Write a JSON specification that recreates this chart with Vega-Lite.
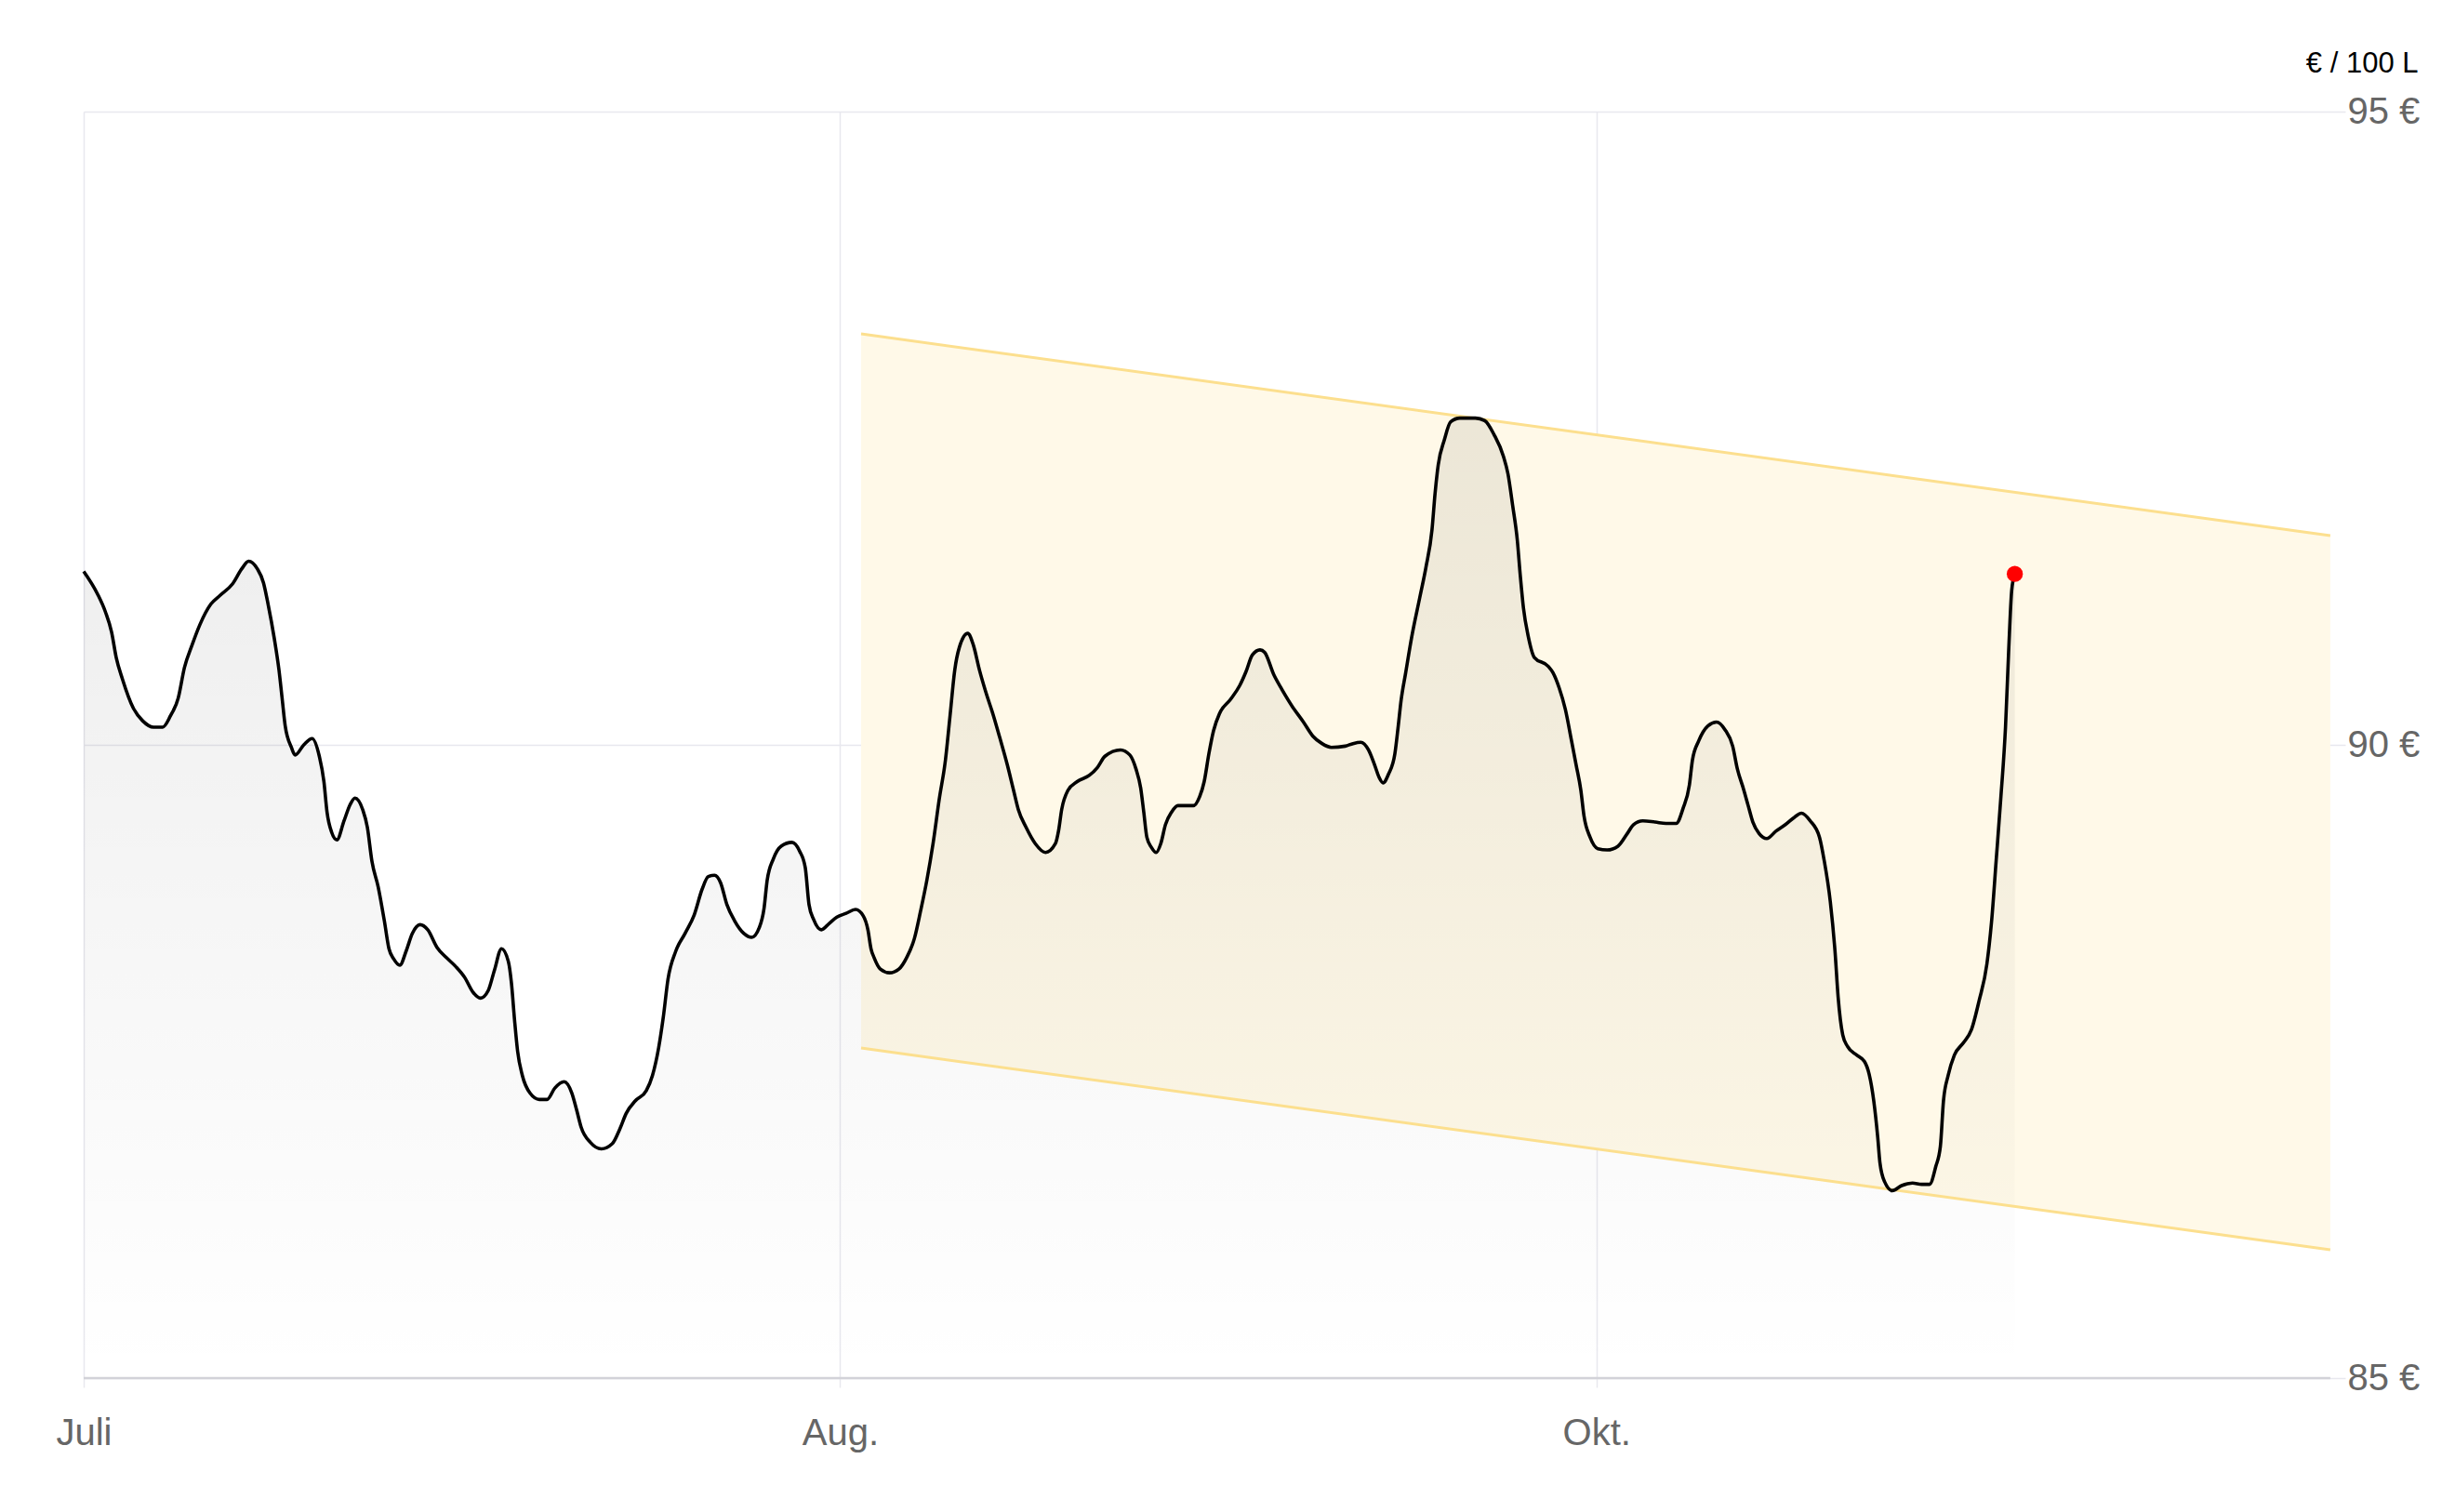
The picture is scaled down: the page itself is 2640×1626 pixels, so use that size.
{
  "$schema": "https://vega.github.io/schema/vega-lite/v6.json",
  "width": 2432,
  "height": 1362,
  "autosize": {"type": "none"},
  "padding": {"left": 90, "top": 120, "right": 118, "bottom": 144},
  "background": "#ffffff",
  "config": {
    "view": {"stroke": null},
    "font": "Liberation Sans"
  },
  "datasets": {
    "price": [
      {"t":0,"v":91.37},{"t":1.84,"v":91.19},{"t":2.87,"v":91.05},{"t":3.69,"v":90.89},{"t":4.3,"v":90.69},{"t":5.12,"v":90.52},{"t":6.56,"v":90.29},{"t":7.79,"v":90.19},{"t":9.22,"v":90.14},{"t":10.45,"v":90.14},{"t":11.48,"v":90.23},{"t":12.5,"v":90.37},{"t":13.32,"v":90.61},{"t":14.34,"v":90.79},{"t":15.37,"v":90.95},{"t":16.8,"v":91.11},{"t":18.03,"v":91.18},{"t":19.67,"v":91.27},{"t":20.9,"v":91.39},{"t":21.8,"v":91.45},{"t":22.95,"v":91.39},{"t":23.77,"v":91.28},{"t":24.38,"v":91.11},{"t":25.2,"v":90.84},{"t":25.82,"v":90.59},{"t":26.23,"v":90.37},{"t":26.64,"v":90.15},{"t":27.46,"v":89.98},{"t":27.95,"v":89.92},{"t":29.1,"v":90.0},{"t":30.2,"v":90.05},{"t":31.15,"v":89.91},{"t":31.76,"v":89.71},{"t":32.17,"v":89.47},{"t":32.78,"v":89.31},{"t":33.48,"v":89.25},{"t":34.42,"v":89.4},{"t":35.24,"v":89.53},{"t":35.86,"v":89.58},{"t":36.88,"v":89.49},{"t":37.5,"v":89.35},{"t":38.11,"v":89.08},{"t":38.93,"v":88.88},{"t":39.75,"v":88.61},{"t":40.36,"v":88.39},{"t":40.98,"v":88.31},{"t":41.8,"v":88.26},{"t":42.62,"v":88.37},{"t":43.44,"v":88.51},{"t":44.46,"v":88.58},{"t":45.49,"v":88.54},
      {"t":46.72,"v":88.4},{"t":47.95,"v":88.32},{"t":49.18,"v":88.25},{"t":50.41,"v":88.16},{"t":51.43,"v":88.05},{"t":52.46,"v":88.0},{"t":53.48,"v":88.06},{"t":54.3,"v":88.22},{"t":55.24,"v":88.39},{"t":56.14,"v":88.29},{"t":56.55,"v":88.12},{"t":56.96,"v":87.83},{"t":57.37,"v":87.58},{"t":57.99,"v":87.39},{"t":59.01,"v":87.25},{"t":60.24,"v":87.2},{"t":61.26,"v":87.2},{"t":62.29,"v":87.29},{"t":63.52,"v":87.34},{"t":64.54,"v":87.25},{"t":65.16,"v":87.12},{"t":65.77,"v":86.98},{"t":67.0,"v":86.86},{"t":68.44,"v":86.81},{"t":69.87,"v":86.85},{"t":70.9,"v":86.97},{"t":71.72,"v":87.09},{"t":72.94,"v":87.19},{"t":74.38,"v":87.27},{"t":75.2,"v":87.39},{"t":76.02,"v":87.61},{"t":76.63,"v":87.85},{"t":77.25,"v":88.15},{"t":78.27,"v":88.37},{"t":79.5,"v":88.51},{"t":80.73,"v":88.66},{"t":81.76,"v":88.86},{"t":82.58,"v":88.96},{"t":83.4,"v":88.97},{"t":84.21,"v":88.91},{"t":85.03,"v":88.74},{"t":86.06,"v":88.61},{"t":87.29,"v":88.51},{"t":88.31,"v":88.48},{"t":89.34,"v":88.56},{"t":89.95,"v":88.71},{"t":90.36,"v":88.93},{"t":91.18,"v":89.1},{"t":92.21,"v":89.2},{"t":93.64,"v":89.23},{"t":94.66,"v":89.16},{"t":95.4,"v":89.03},{"t":95.89,"v":88.74},{"t":96.51,"v":88.62},{"t":97.53,"v":88.54},{"t":98.56,"v":88.59},{"t":99.58,"v":88.64},{"t":100.81,"v":88.67},
      {"t":102.04,"v":88.7},{"t":103.06,"v":88.65},{"t":103.68,"v":88.54},{"t":104.09,"v":88.39},{"t":104.5,"v":88.32},{"t":105.32,"v":88.23},{"t":106.55,"v":88.2},{"t":107.78,"v":88.23},{"t":108.8,"v":88.32},{"t":109.82,"v":88.47},{"t":110.65,"v":88.69},{"t":111.47,"v":88.93},{"t":112.29,"v":89.22},{"t":113.11,"v":89.57},{"t":113.93,"v":89.88},{"t":114.54,"v":90.23},{"t":115.16,"v":90.59},{"t":115.77,"v":90.77},{"t":116.88,"v":90.88},{"t":117.61,"v":90.79},{"t":118.43,"v":90.59},{"t":119.25,"v":90.42},{"t":120.28,"v":90.23},{"t":121.1,"v":90.06},{"t":122.12,"v":89.84},{"t":122.94,"v":89.64},{"t":123.56,"v":89.49},{"t":124.58,"v":89.35},{"t":125.81,"v":89.22},{"t":127.16,"v":89.15},{"t":128.47,"v":89.22},{"t":128.88,"v":89.32},{"t":129.3,"v":89.49},{"t":130.12,"v":89.64},{"t":131.35,"v":89.71},{"t":132.97,"v":89.76},{"t":134.0,"v":89.82},{"t":135.02,"v":89.91},{"t":137.07,"v":89.96},{"t":138.31,"v":89.92},{"t":139.12,"v":89.81},{"t":139.74,"v":89.66},{"t":140.15,"v":89.47},{"t":140.56,"v":89.27},{"t":141.17,"v":89.19},{"t":141.79,"v":89.15},{"t":142.4,"v":89.22},{"t":143.02,"v":89.37},{"t":143.84,"v":89.47},{"t":144.66,"v":89.52},{"t":145.68,"v":89.52},{"t":146.7,"v":89.52},{"t":147.53,"v":89.59},{"t":148.14,"v":89.71},{"t":148.76,"v":89.93},{"t":149.37,"v":90.11},{"t":150.19,"v":90.25},{"t":151.63,"v":90.36},{"t":152.85,"v":90.47},{"t":153.68,"v":90.58},{"t":154.5,"v":90.71},{"t":155.52,"v":90.75},{"t":156.13,"v":90.73},
      {"t":157.37,"v":90.55},{"t":158.39,"v":90.44},{"t":159.82,"v":90.3},{"t":161.26,"v":90.18},{"t":162.49,"v":90.07},{"t":163.72,"v":90.01},{"t":164.95,"v":89.98},{"t":166.79,"v":89.99},{"t":167.81,"v":90.01},{"t":168.84,"v":90.02},{"t":169.86,"v":89.96},{"t":170.68,"v":89.84},{"t":171.29,"v":89.74},{"t":171.79,"v":89.7},{"t":172.52,"v":89.77},{"t":173.35,"v":89.93},{"t":173.76,"v":90.13},{"t":174.17,"v":90.35},{"t":174.78,"v":90.57},{"t":175.6,"v":90.86},{"t":176.63,"v":91.16},{"t":177.45,"v":91.4},{"t":178.26,"v":91.7},{"t":178.67,"v":91.99},{"t":179.08,"v":92.21},{"t":179.9,"v":92.41},{"t":180.72,"v":92.55},{"t":181.95,"v":92.58},{"t":184.0,"v":92.58},{"t":185.23,"v":92.56},{"t":186.46,"v":92.45},{"t":187.69,"v":92.28},{"t":188.3,"v":92.14},{"t":188.92,"v":91.89},{"t":189.53,"v":91.62},{"t":189.94,"v":91.33},{"t":190.35,"v":91.08},{"t":190.97,"v":90.86},{"t":191.79,"v":90.69},{"t":193.63,"v":90.62},{"t":194.25,"v":90.57},{"t":195.07,"v":90.45},{"t":195.89,"v":90.28},{"t":196.71,"v":90.03},{"t":197.32,"v":89.84},{"t":197.94,"v":89.64},{"t":198.35,"v":89.44},{"t":199.16,"v":89.27},{"t":200.19,"v":89.18},{"t":201.42,"v":89.17},{"t":202.85,"v":89.2},
      {"t":204.08,"v":89.3},{"t":204.9,"v":89.37},{"t":206.13,"v":89.4},{"t":207.77,"v":89.39},{"t":209.2,"v":89.38},{"t":210.55,"v":89.38},{"t":211.46,"v":89.5},{"t":212.28,"v":89.68},{"t":212.69,"v":89.88},{"t":213.51,"v":90.03},{"t":214.74,"v":90.15},{"t":215.88,"v":90.18},{"t":216.99,"v":90.12},{"t":218.01,"v":89.99},{"t":218.63,"v":89.81},{"t":219.45,"v":89.65},{"t":220.06,"v":89.52},{"t":220.68,"v":89.39},{"t":221.5,"v":89.3},{"t":222.52,"v":89.26},{"t":223.75,"v":89.32},{"t":224.98,"v":89.37},{"t":226.21,"v":89.43},{"t":227.11,"v":89.46},{"t":228.26,"v":89.4},{"t":229.49,"v":89.27},{"t":230.1,"v":89.09},{"t":230.92,"v":88.76},{"t":231.54,"v":88.37},{"t":231.95,"v":88.01},{"t":232.56,"v":87.71},{"t":233.18,"v":87.62},{"t":234.41,"v":87.55},{"t":235.43,"v":87.5},{"t":236.05,"v":87.4},{"t":236.66,"v":87.19},{"t":237.19,"v":86.9},{"t":237.48,"v":86.7},{"t":238.1,"v":86.55},{"t":239.12,"v":86.48},{"t":240.35,"v":86.52},{"t":241.78,"v":86.54},{"t":243.01,"v":86.53},{"t":244.04,"v":86.53},{"t":244.86,"v":86.67},{"t":245.47,"v":86.83},{"t":245.88,"v":87.19},{"t":246.5,"v":87.39},{"t":247.32,"v":87.55},{"t":248.55,"v":87.65},{"t":249.57,"v":87.75},{"t":250.59,"v":87.98},{"t":251.62,"v":88.27},{"t":252.23,"v":88.6},{"t":252.85,"v":89.09},{"t":253.46,"v":89.58},{"t":254.08,"v":90.14},{"t":254.49,"v":90.73},{"t":254.9,"v":91.22},{"t":255.31,"v":91.35}
    ],
    "band": [
      {"t": 102.78, "hi": 93.245, "lo": 87.606},
      {"t": 297.02, "hi": 91.652, "lo": 86.013}
    ],
    "latest": [
      {"t": 255.31, "v": 91.35}
    ],
    "base": [
      {"t0": 0, "t1": 297.02, "v": 85}
    ]
  },
  "layer": [
    {
      "data": {"name": "band"},
      "mark": {"type": "area", "color": "#fff9e8", "opacity": 1},
      "encoding": {
        "x": {
          "field": "t",
          "type": "quantitative",
          "scale": {"domain": [0, 299], "nice": false, "zero": false},
          "axis": {
            "values": [0, 100, 200],
            "labelExpr": "datum.value == 0 ? 'Juli' : datum.value == 100 ? 'Aug.' : 'Okt.'",
            "title": null,
            "domain": false,
            "grid": true,
            "gridColor": "#e8e8ee",
            "gridWidth": 1.5,
            "ticks": true,
            "tickColor": "#e8e8ee",
            "tickWidth": 1.5,
            "tickSize": 10,
            "labelFontSize": 40,
            "labelColor": "#666666",
            "labelFont": "Liberation Sans",
            "labelPadding": 29,
            "labelFlush": false
          }
        },
        "y": {
          "field": "hi",
          "type": "quantitative",
          "scale": {"domain": [85, 95], "nice": false, "zero": false},
          "axis": {
            "orient": "right",
            "values": [85, 90, 95],
            "labelExpr": "datum.value + ' €'",
            "title": "€ / 100 L",
            "titleAngle": 0,
            "titleAlign": "right",
            "titleBaseline": "middle",
            "titleX": 78,
            "titleY": -52,
            "titleFontSize": 31,
            "titleFontWeight": "normal",
            "titleColor": "#000000",
            "titleFont": "Liberation Sans",
            "domain": false,
            "ticks": false,
            "grid": true,
            "gridColor": "#e8e8ee",
            "gridWidth": 1.5,
            "labelFontSize": 40,
            "labelColor": "#666666",
            "labelFont": "Liberation Sans",
            "labelPadding": 2,
            "labelBaseline": "middle",
            "labelFlush": false
          }
        },
        "y2": {"field": "lo"}
      }
    },
    {
      "data": {"name": "price"},
      "mark": {
        "type": "area",
        "interpolate": "monotone",
        "color": {
          "gradient": "linear",
          "x1": 0, "y1": 0, "x2": 0, "y2": 1,
          "stops": [
            {"offset": 0, "color": "rgba(0,0,0,0.075)"},
            {"offset": 1, "color": "rgba(0,0,0,0.0)"}
          ]
        }
      },
      "encoding": {
        "x": {"field": "t", "type": "quantitative"},
        "y": {"field": "v", "type": "quantitative"},
        "y2": {"datum": 85}
      }
    },
    {
      "data": {"name": "band"},
      "mark": {"type": "line", "color": "#fcdf8e", "strokeWidth": 3},
      "encoding": {
        "x": {"field": "t", "type": "quantitative"},
        "y": {"field": "hi", "type": "quantitative"}
      }
    },
    {
      "data": {"name": "band"},
      "mark": {"type": "line", "color": "#fcdf8e", "strokeWidth": 3},
      "encoding": {
        "x": {"field": "t", "type": "quantitative"},
        "y": {"field": "lo", "type": "quantitative"}
      }
    },
    {
      "data": {"name": "base"},
      "mark": {"type": "rule", "color": "#d2d2d8", "strokeWidth": 2.5},
      "encoding": {
        "x": {"field": "t0", "type": "quantitative"},
        "x2": {"field": "t1"},
        "y": {"field": "v", "type": "quantitative"}
      }
    },
    {
      "data": {"name": "price"},
      "mark": {"type": "line", "interpolate": "monotone", "color": "#000000", "strokeWidth": 3.6},
      "encoding": {
        "x": {"field": "t", "type": "quantitative"},
        "y": {"field": "v", "type": "quantitative"}
      }
    },
    {
      "data": {"name": "latest"},
      "mark": {"type": "point", "filled": true, "color": "#ff0000", "opacity": 1, "size": 300},
      "encoding": {
        "x": {"field": "t", "type": "quantitative"},
        "y": {"field": "v", "type": "quantitative"}
      }
    }
  ]
}
